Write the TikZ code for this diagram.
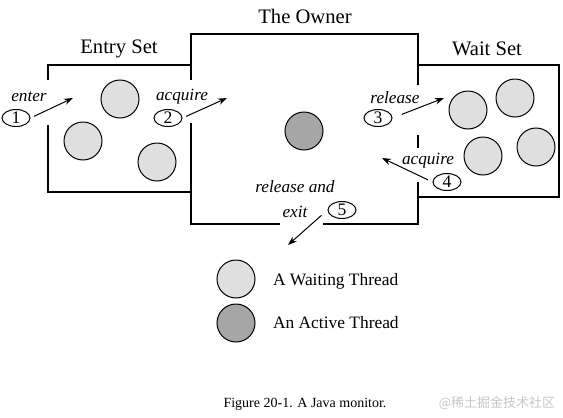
\documentclass[tikz,border=0pt]{standalone}
\usepackage{fontspec}
\setmainfont{Liberation Serif}
\newfontfamily\cjkfont{Noto Sans CJK SC}
\usetikzlibrary{arrows.meta,shapes.geometric}

\begin{document}
\begin{tikzpicture}[x=0.5pt,y=-0.5pt,
        wall/.style={draw=black, line width=0.9pt},
        waiting/.style={circle, draw=black, line width=0.5pt, fill=gray!25, minimum size=19pt, inner sep=0pt},
        active/.style={waiting, fill=gray!70},
        title/.style={font=\fontsize{10.3}{12}\selectfont},
        act/.style={font=\fontsize{8.6}{12.5}\selectfont\itshape},
        numtag/.style={ellipse, draw=black, line width=0.5pt, minimum width=14pt, minimum height=8.5pt, inner sep=0pt, font=\fontsize{8.8}{9}\selectfont},
        legend/.style={anchor=west, font=\fontsize{8.7}{10}\selectfont},
        arr/.style={-{Stealth[length=4.5pt,width=3.2pt]}, line width=0.5pt}
    ]
    \useasboundingbox (0,0) rectangle (563,418);
    % the three rooms, with their doors left open
    \draw[wall] (191,65) -- (48,65) -- (48,80) (48,125) -- (48,192) -- (191,192);
    \draw[wall] (191,80) -- (191,34) -- (418,34) -- (418,85)
        (418,135) -- (418,148)
        (418,182) -- (418,224) -- (323,224)
        (280,224) -- (191,224) -- (191,123);
    \draw[wall] (418,65) -- (559,65) -- (559,197) -- (418,197);
    \node[title] (owner) at (305,16) {The Owner};
    \node[title] (entry) at (119,49) {Entry Set};
    \node[title] (wait) at (487,49) {Wait Set};
    % threads
    \node[waiting] (t1) at (120,99) {};
    \node[waiting] (t2) at (83,141) {};
    \node[waiting] (t3) at (157,162) {};
    \node[active] (t0) at (304,131) {};
    \node[waiting] (w1) at (468,110) {};
    \node[waiting] (w2) at (515,98) {};
    \node[waiting] (w3) at (483,156) {};
    \node[waiting] (w4) at (536,147) {};
    % transitions
    \node[act] (enter) at (29,97) {enter};
    \node[numtag] (n1) at (16,118) {1};
    \coordinate (e1) at (73,98);
    \node[act] (acq) at (182,97) {acquire};
    \node[numtag] (n2) at (168,118) {2};
    \coordinate (e2) at (227,98);
    \node[act] (rel) at (395,98) {release};
    \node[numtag] (n3) at (378,118) {3};
    \coordinate (e3) at (444,98);
    \node[act] (reacq) at (428,161) {acquire};
    \node[numtag] (n4) at (447,182) {4};
    \coordinate (e4) at (382,158);
    \node[act, align=center] (exit) at (295,199) {release and\\exit};
    \node[numtag] (n5) at (342,210) {5};
    \coordinate (e5) at (288,245);
    \draw[arr, shorten <=2pt] (n1.east) -- (e1);
    \draw[arr, shorten <=2pt] (n2.east) -- (e2);
    \draw[arr, shorten <=5pt] (n3.east) -- (e3);
    \draw[arr, shorten <=2.5pt] (n4.west) -- (e4);
    \draw[arr, shorten <=4pt] (n5.west) -- (e5);
    % legend
    \node[waiting] (lw) at (236,279) {};
    \node[legend] (lwtext) at (266,281) {A Waiting Thread};
    \node[active] (la) at (236,323) {};
    \node[legend] (latext) at (266,323) {An Active Thread};
    \node[font=\fontsize{7}{8}\selectfont] (caption) at (305,404) {Figure 20-1. A Java monitor.};
    \node[font=\cjkfont\fontsize{6.5}{8}\selectfont, text=gray!45] (mark) at (497,403) {@稀土掘金技术社区};
\end{tikzpicture}
\end{document}
